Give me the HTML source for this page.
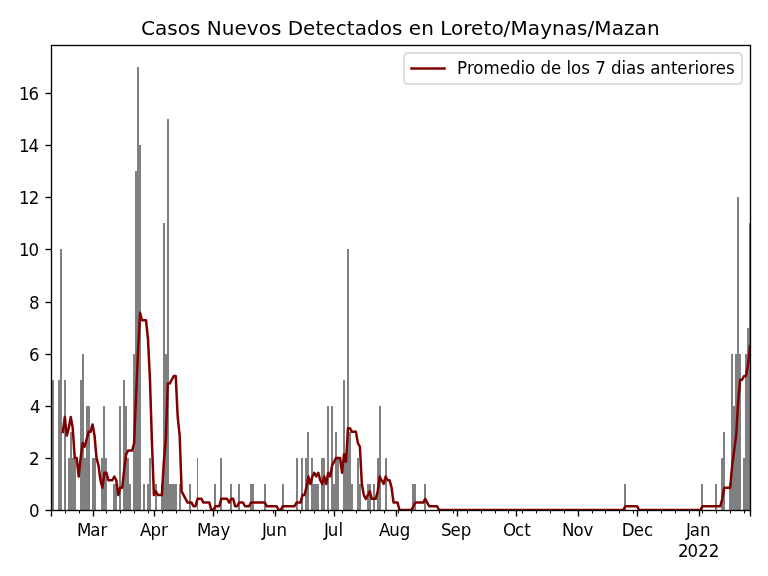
<!DOCTYPE html>
<html lang="es"><head><meta charset="utf-8"><title>Casos Nuevos Detectados en Loreto/Maynas/Mazan</title>
<style>html,body{margin:0;padding:0;background:#fff;overflow:hidden}svg{display:block}text{font-family:"DejaVu Sans","Liberation Sans",sans-serif;fill:#000;white-space:pre}</style>
</head><body>
<svg width="768" height="576" viewBox="0 0 768 576">
<rect x="0" y="0" width="768" height="576" fill="#fff"/>
<defs><clipPath id="ax"><rect x="51" y="45" width="699" height="465"/></clipPath></defs>
<path id="bars" d="M51 510V484H52V510ZM52 510V380H54V510ZM58 510V380H60V510ZM60 510V249H62V510ZM64 510V380H66V510ZM68 510V458H70V510ZM70 510V432H72V510ZM72 510V458H74V510ZM74 510V458H76V510ZM80 510V380H82V510ZM82 510V354H84V510ZM84 510V458H86V510ZM86 510V406H88V510ZM88 510V406H90V510ZM92 510V458H94V510ZM94 510V458H96V510ZM101 510V458H103V510ZM103 510V406H105V510ZM105 510V458H107V510ZM113 510V484H115V510ZM115 510V484H117V510ZM119 510V406H121V510ZM123 510V380H125V510ZM125 510V406H127V510ZM127 510V458H129V510ZM129 510V484H131V510ZM133 510V354H135V510ZM135 510V171H137V510ZM137 510V67H139V510ZM139 510V145H141V510ZM143 510V484H145V510ZM147 510V484H149V510ZM149 510V458H151V510ZM155 510V484H157V510ZM161 510V484H163V510ZM163 510V223H165V510ZM165 510V354H167V510ZM167 510V119H169V510ZM169 510V484H171V510ZM171 510V484H173V510ZM173 510V484H175V510ZM175 510V484H177V510ZM179 510V484H181V510ZM189 510V484H191V510ZM197 510V458H198V510ZM214 510V484H216V510ZM220 510V458H222V510ZM230 510V484H232V510ZM238 510V484H240V510ZM250 510V484H252V510ZM252 510V484H254V510ZM264 510V484H266V510ZM282 510V484H284V510ZM296 510V458H298V510ZM301 510V458H303V510ZM305 510V458H307V510ZM307 510V432H309V510ZM311 510V458H313V510ZM313 510V484H315V510ZM315 510V484H317V510ZM317 510V484H319V510ZM321 510V458H323V510ZM323 510V458H325V510ZM327 510V406H329V510ZM331 510V406H333V510ZM333 510V484H335V510ZM335 510V432H337V510ZM337 510V458H339V510ZM343 510V380H345V510ZM345 510V458H347V510ZM347 510V249H349V510ZM349 510V432H351V510ZM351 510V484H353V510ZM357 510V458H359V510ZM359 510V484H361V510ZM367 510V484H369V510ZM369 510V484H371V510ZM373 510V484H375V510ZM377 510V458H379V510ZM379 510V406H381V510ZM385 510V458H387V510ZM412 510V484H414V510ZM414 510V484H416V510ZM424 510V484H426V510ZM624 510V484H626V510ZM701 510V484H703V510ZM715 510V484H717V510ZM721 510V458H723V510ZM723 510V432H725V510ZM729 510V484H731V510ZM731 510V354H733V510ZM733 510V406H735V510ZM735 510V354H737V510ZM737 510V197H739V510ZM739 510V354H741V510ZM743 510V458H745V510ZM745 510V354H747V510ZM747 510V328H749V510ZM749 510V223H750V510Z" fill="#808080" shape-rendering="crispEdges"/>
<g clip-path="url(#ax)"><polyline id="avg" points="62.84,431.85 64.82,416.96 66.80,435.57 68.78,428.13 70.76,416.96 72.74,428.13 74.72,457.90 76.70,457.90 78.68,476.51 80.66,457.90 82.64,443.01 84.62,446.73 86.61,439.29 88.59,431.85 90.57,431.85 92.55,424.41 94.53,435.57 96.51,457.90 98.49,465.34 100.47,480.23 102.45,487.67 104.43,472.79 106.41,472.79 108.39,480.23 110.37,480.23 112.35,480.23 114.33,476.51 116.31,480.23 118.29,495.11 120.27,487.67 122.25,487.67 124.23,469.06 126.21,454.18 128.19,450.46 130.17,450.46 132.15,450.46 134.13,443.01 136.11,394.63 138.09,349.98 140.07,312.76 142.05,320.20 144.03,320.20 146.01,320.20 147.99,338.81 149.97,379.75 151.95,443.01 153.93,495.11 155.92,491.39 157.90,495.11 159.88,495.11 161.86,495.11 163.84,461.62 165.82,439.29 167.80,383.47 169.78,383.47 171.76,379.75 173.74,376.03 175.72,376.03 177.70,416.96 179.68,435.57 181.66,491.39 183.64,495.11 185.62,498.84 187.60,502.56 189.58,502.56 191.56,502.56 193.54,506.28 195.52,506.28 197.50,498.84 199.48,498.84 201.46,498.84 203.44,502.56 205.42,502.56 207.40,502.56 209.38,502.56 211.36,510.00 213.34,510.00 215.32,506.28 217.30,506.28 219.28,506.28 221.26,498.84 223.24,498.84 225.22,498.84 227.21,498.84 229.19,502.56 231.17,498.84 233.15,498.84 235.13,506.28 237.11,506.28 239.09,502.56 241.07,502.56 243.05,502.56 245.03,506.28 247.01,506.28 248.99,506.28 250.97,502.56 252.95,502.56 254.93,502.56 256.91,502.56 258.89,502.56 260.87,502.56 262.85,502.56 264.83,502.56 266.81,506.28 268.79,506.28 270.77,506.28 272.75,506.28 274.73,506.28 276.71,506.28 278.69,510.00 280.67,510.00 282.65,506.28 284.63,506.28 286.61,506.28 288.59,506.28 290.57,506.28 292.55,506.28 294.53,506.28 296.52,502.56 298.50,502.56 300.48,502.56 302.46,495.11 304.44,495.11 306.42,487.67 308.40,476.51 310.38,483.95 312.36,476.51 314.34,472.79 316.32,476.51 318.30,472.79 320.28,480.23 322.26,483.95 324.24,476.51 326.22,483.95 328.20,472.79 330.18,476.51 332.16,465.34 334.14,461.62 336.12,457.90 338.10,457.90 340.08,457.90 342.06,472.79 344.04,454.18 346.02,461.62 348.00,428.13 349.98,428.13 351.96,431.85 353.94,431.85 355.92,431.85 357.90,443.01 359.88,446.73 361.86,483.95 363.84,495.11 365.83,498.84 367.81,495.11 369.79,491.39 371.77,498.84 373.75,498.84 375.73,498.84 377.71,491.39 379.69,476.51 381.67,480.23 383.65,483.95 385.63,476.51 387.61,480.23 389.59,480.23 391.57,487.67 393.55,502.56 395.53,502.56 397.51,502.56 399.49,510.00 401.47,510.00 403.45,510.00 405.43,510.00 407.41,510.00 409.39,510.00 411.37,510.00 413.35,506.28 415.33,502.56 417.31,502.56 419.29,502.56 421.27,502.56 423.25,502.56 425.23,498.84 427.21,502.56 429.19,506.28 431.17,506.28 433.15,506.28 435.13,506.28 437.12,506.28 439.10,510.00 441.08,510.00 443.06,510.00 445.04,510.00 447.02,510.00 449.00,510.00 450.98,510.00 452.96,510.00 454.94,510.00 456.92,510.00 458.90,510.00 460.88,510.00 462.86,510.00 464.84,510.00 466.82,510.00 468.80,510.00 470.78,510.00 472.76,510.00 474.74,510.00 476.72,510.00 478.70,510.00 480.68,510.00 482.66,510.00 484.64,510.00 486.62,510.00 488.60,510.00 490.58,510.00 492.56,510.00 494.54,510.00 496.52,510.00 498.50,510.00 500.48,510.00 502.46,510.00 504.44,510.00 506.43,510.00 508.41,510.00 510.39,510.00 512.37,510.00 514.35,510.00 516.33,510.00 518.31,510.00 520.29,510.00 522.27,510.00 524.25,510.00 526.23,510.00 528.21,510.00 530.19,510.00 532.17,510.00 534.15,510.00 536.13,510.00 538.11,510.00 540.09,510.00 542.07,510.00 544.05,510.00 546.03,510.00 548.01,510.00 549.99,510.00 551.97,510.00 553.95,510.00 555.93,510.00 557.91,510.00 559.89,510.00 561.87,510.00 563.85,510.00 565.83,510.00 567.81,510.00 569.79,510.00 571.77,510.00 573.75,510.00 575.74,510.00 577.72,510.00 579.70,510.00 581.68,510.00 583.66,510.00 585.64,510.00 587.62,510.00 589.60,510.00 591.58,510.00 593.56,510.00 595.54,510.00 597.52,510.00 599.50,510.00 601.48,510.00 603.46,510.00 605.44,510.00 607.42,510.00 609.40,510.00 611.38,510.00 613.36,510.00 615.34,510.00 617.32,510.00 619.30,510.00 621.28,510.00 623.26,510.00 625.24,506.28 627.22,506.28 629.20,506.28 631.18,506.28 633.16,506.28 635.14,506.28 637.12,506.28 639.10,510.00 641.08,510.00 643.06,510.00 645.04,510.00 647.03,510.00 649.01,510.00 650.99,510.00 652.97,510.00 654.95,510.00 656.93,510.00 658.91,510.00 660.89,510.00 662.87,510.00 664.85,510.00 666.83,510.00 668.81,510.00 670.79,510.00 672.77,510.00 674.75,510.00 676.73,510.00 678.71,510.00 680.69,510.00 682.67,510.00 684.65,510.00 686.63,510.00 688.61,510.00 690.59,510.00 692.57,510.00 694.55,510.00 696.53,510.00 698.51,510.00 700.49,510.00 702.47,506.28 704.45,506.28 706.43,506.28 708.41,506.28 710.39,506.28 712.37,506.28 714.35,506.28 716.34,506.28 718.32,506.28 720.30,506.28 722.28,498.84 724.26,487.67 726.24,487.67 728.22,487.67 730.20,487.67 732.18,465.34 734.16,450.46 736.14,435.57 738.12,402.08 740.10,379.75 742.08,379.75 744.06,376.03 746.04,376.03 748.02,364.86 750.00,346.25" fill="none" stroke="#800000" stroke-width="2.5" stroke-linejoin="round" stroke-linecap="square"/></g>
<path d="M51.5 510V516.5M93.5 510V516.5M154.5 510V516.5M213.5 510V516.5M275.5 510V516.5M334.5 510V516.5M396.5 510V516.5M457.5 510V516.5M516.5 510V516.5M578.5 510V516.5M637.5 510V516.5M699.5 510V516.5M750.5 510V516.5" stroke="#000" stroke-width="1.3333" fill="none"/>
<path d="M65.5 510V513.5M79.5 510V513.5M106.5 510V513.5M120.5 510V513.5M134.5 510V513.5M148.5 510V513.5M162.5 510V513.5M176.5 510V513.5M190.5 510V513.5M203.5 510V513.5M217.5 510V513.5M231.5 510V513.5M245.5 510V513.5M259.5 510V513.5M273.5 510V513.5M287.5 510V513.5M300.5 510V513.5M314.5 510V513.5M328.5 510V513.5M342.5 510V513.5M356.5 510V513.5M370.5 510V513.5M384.5 510V513.5M398.5 510V513.5M411.5 510V513.5M425.5 510V513.5M439.5 510V513.5M453.5 510V513.5M467.5 510V513.5M481.5 510V513.5M495.5 510V513.5M508.5 510V513.5M522.5 510V513.5M536.5 510V513.5M550.5 510V513.5M564.5 510V513.5M578.5 510V513.5M592.5 510V513.5M605.5 510V513.5M619.5 510V513.5M633.5 510V513.5M647.5 510V513.5M661.5 510V513.5M675.5 510V513.5M689.5 510V513.5M702.5 510V513.5M716.5 510V513.5M730.5 510V513.5M744.5 510V513.5" stroke="#000" stroke-width="1" fill="none"/>
<g shape-rendering="crispEdges">
<path d="M46 93h5v1h-5zM46 145h5v1h-5zM46 197h5v1h-5zM46 249h5v1h-5zM46 302h5v1h-5zM46 354h5v1h-5zM46 406h5v1h-5zM46 458h5v1h-5zM46 510h5v1h-5z" fill="#000"/>
<path d="M45 93h1v1h-1zM45 145h1v1h-1zM45 197h1v1h-1zM45 249h1v1h-1zM45 302h1v1h-1zM45 354h1v1h-1zM45 406h1v1h-1zM45 458h1v1h-1zM45 510h1v1h-1z" fill="#000" fill-opacity="0.5"/>
<path d="M46 92h5v1h-5zM46 94h5v1h-5zM46 144h5v1h-5zM46 146h5v1h-5zM46 196h5v1h-5zM46 198h5v1h-5zM46 248h5v1h-5zM46 250h5v1h-5zM46 301h5v1h-5zM46 303h5v1h-5zM46 353h5v1h-5zM46 355h5v1h-5zM46 405h5v1h-5zM46 407h5v1h-5zM46 457h5v1h-5zM46 459h5v1h-5zM46 509h5v1h-5zM46 511h5v1h-5z" fill="#000" fill-opacity="0.1667"/>
<path d="M45 92h1v1h-1zM45 94h1v1h-1zM45 144h1v1h-1zM45 146h1v1h-1zM45 196h1v1h-1zM45 198h1v1h-1zM45 248h1v1h-1zM45 250h1v1h-1zM45 301h1v1h-1zM45 303h1v1h-1zM45 353h1v1h-1zM45 355h1v1h-1zM45 405h1v1h-1zM45 407h1v1h-1zM45 457h1v1h-1zM45 459h1v1h-1zM45 509h1v1h-1zM45 511h1v1h-1z" fill="#000" fill-opacity="0.085"/>
<path d="M51 45h700v1h-700zM51 510h700v1h-700z" fill="#000"/>
<path d="M53 44h697v1h-697zM53 46h697v1h-697zM53 509h697v1h-697zM53 511h697v1h-697z" fill="#000" fill-opacity="0.1667"/>
</g>
<path d="M51.5 44.69V511.31M750.5 44.69V511.31" stroke="#000" stroke-width="1.3333" fill="none"/>
<text x="140.98 154.93 167.32 177.75 189.98 201.40 206.75 221.71 234.39 246.82 258.65 270.89 282.18 287.79 302.95 315.50 323.34 335.65 346.64 354.73 367.00 379.68 391.92 402.84 408.70 421.25 434.18 440.17 450.95 463.18 471.09 483.40 491.50 503.48 510.46 527.73 540.23 552.06 564.75 577.00 587.42 594.15 611.67 623.92 634.42 646.92" y="35" font-size="20">Casos Nuevos Detectados en Loreto/Maynas/Mazan</text>
<text transform="translate(0,517) scale(1,1.08)" x="28.94" y="0" font-size="16.667">0</text>
<text transform="translate(0,465) scale(1,1.08)" x="28.94" y="0" font-size="16.667">2</text>
<text transform="translate(0,413) scale(1,1.08)" x="29.94" y="0" font-size="16.667">4</text>
<text transform="translate(0,361) scale(1,1.08)" x="28.94" y="0" font-size="16.667">6</text>
<text transform="translate(0,309) scale(1,1.08)" x="28.94" y="0" font-size="16.667">8</text>
<text transform="translate(0,256) scale(1,1.08)" x="19.10 28.44" y="0" font-size="16.667">10</text>
<text transform="translate(0,204) scale(1,1.08)" x="19.10 28.69" y="0" font-size="16.667">12</text>
<text transform="translate(0,152) scale(1,1.08)" x="19.10 28.44" y="0" font-size="16.667">14</text>
<text transform="translate(0,100) scale(1,1.08)" x="19.10 28.44" y="0" font-size="16.667">16</text>
<text transform="translate(0,536) scale(1,1.08)" x="77.08 90.19 100.39" y="0" font-size="16.667">Mar</text>
<text transform="translate(0,536) scale(1,1.08)" x="139.90 150.41 160.97" y="0" font-size="16.667">Apr</text>
<text transform="translate(0,536) scale(1,1.08)" x="197.12 210.23 220.44" y="0" font-size="16.667">May</text>
<text transform="translate(0,536) scale(1,1.08)" x="261.97 265.87 276.44" y="0" font-size="16.667">Jun</text>
<text transform="translate(0,536) scale(1,1.08)" x="324.09 327.74 338.43" y="0" font-size="16.667">Jul</text>
<text transform="translate(0,536) scale(1,1.08)" x="379.01 389.15 399.70" y="0" font-size="16.667">Aug</text>
<text transform="translate(0,536) scale(1,1.08)" x="440.96 450.53 460.65" y="0" font-size="16.667">Sep</text>
<text transform="translate(0,536) scale(1,1.08)" x="502.92 515.03 524.19" y="0" font-size="16.667">Oct</text>
<text transform="translate(0,536) scale(1,1.08)" x="561.96 573.54 583.47" y="0" font-size="16.667">Nov</text>
<text transform="translate(0,536) scale(1,1.08)" x="621.88 633.69 643.94" y="0" font-size="16.667">Dec</text>
<text transform="translate(0,536) scale(1,1.08)" x="685.92 689.83 699.90" y="0" font-size="16.667">Jan</text>
<text transform="translate(0,557) scale(1,1.08)" x="677.94 687.41 698.38 708.72" y="0" font-size="16.667">2022</text>
<rect x="404" y="53" width="338" height="31" rx="3.4" ry="3.4" fill="#fff" fill-opacity="0.8" stroke="#d6d6d6" stroke-opacity="0.8333" stroke-width="2"/>
<path d="M410.25 67.25h35.5v2.5h-35.5z" fill="#800000"/>
<text transform="translate(0,74) scale(1,1.08)" x="456.95 466.95 473.17 483.50 499.72 510.09 520.42 524.92 535.48 540.40 550.97 561.59 566.51 571.01 581.20 590.39 595.18 606.28 611.08 621.39 626.03 636.23 645.65 650.20 660.15 670.97 677.25 687.75 694.59 698.97 709.15 715.64 725.89" y="0" font-size="16.667">Promedio de los 7 dias anteriores</text>
</svg>
</body></html>
